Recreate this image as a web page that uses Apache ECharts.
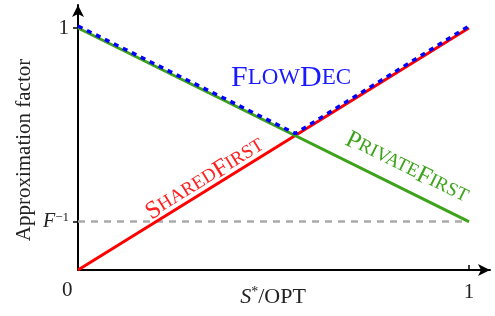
<!DOCTYPE html>
<html>
<head>
<meta charset="utf-8">
<script src="https://cdn.jsdelivr.net/npm/echarts@6/dist/echarts.min.js"></script>
<style>
  html, body { margin: 0; padding: 0; background: #fff; }
  #main { width: 495px; height: 316px; }
</style>
</head>
<body>
<div id="main"></div>
<script>
    // data
    var Finv = 0.2;
    var sharedFirst = [[0, 0], [1, 1]];
    var privateFirst = [[0, 1], [1, Finv]];
    // max of the two, drawn a hair above the solid lines
    var flowDec = [[0, 1.008], [0.556, 0.564], [1, 1.008]];
    var floorLine = [[0, Finv], [1, Finv]];
    var xTicks = [1];
    var yTicks = [Finv, 1];

    var serif = 'Liberation Serif';
    var green = '#3ca31a';

    var chart = echarts.init(document.getElementById('main'));
    var option = {
        animation: false,
        grid: { left: 78, right: 5, top: 5, bottom: 46 },
        xAxis: {
            type: 'value', min: 0, max: 1.054,
            splitLine: { show: false },
            axisLine: { lineStyle: { color: '#000', width: 2 }, symbol: ['none', 'arrow'], symbolSize: [9, 12] },
            axisTick: { customValues: xTicks, length: 5, inside: true, lineStyle: { color: '#000', width: 1.5 } },
            axisLabel: { customValues: xTicks, color: '#222', fontFamily: serif, fontSize: 21, margin: 12 }
        },
        yAxis: {
            type: 'value', min: 0, max: 1.095,
            splitLine: { show: false },
            axisLine: { lineStyle: { color: '#000', width: 2 }, symbol: ['none', 'arrow'], symbolSize: [9, 12] },
            axisTick: { customValues: yTicks, length: 5, lineStyle: { color: '#000', width: 1.5 } },
            axisLabel: {
                customValues: yTicks, margin: 9, color: '#222', fontFamily: serif, fontSize: 21,
                formatter: function (v) { return v == 1 ? '1' : '{it|F}{sup|−1}'; },
                rich: {
                    it: { fontStyle: 'italic', fontFamily: serif, fontSize: 20, color: '#222' },
                    sup: { fontFamily: serif, fontSize: 13, color: '#222', verticalAlign: 'top', padding: [0, 0, 9, 0] }
                }
            }
        },
        graphic: [
            { type: 'text', left: 62, top: 280, style: { text: '0', font: '21px ' + serif, fill: '#222' } },
            {
                type: 'text', x: 24, y: 150, rotation: Math.PI / 2, origin: [0, 0],
                style: { text: 'Approximation factor', font: '21px ' + serif, fill: '#222', align: 'center', verticalAlign: 'middle' }
            },
            {
                type: 'text', x: 273, y: 297,
                style: {
                    text: '{it|S}{sup|*}{n|/OPT}', align: 'center', verticalAlign: 'middle',
                    rich: {
                        it: { fontStyle: 'italic', fontFamily: serif, fontSize: 22, fill: '#222' },
                        sup: { fontFamily: serif, fontSize: 14, fill: '#222', padding: [0, 0, 9, 0] },
                        n: { fontFamily: serif, fontSize: 22, fill: '#222' }
                    }
                }
            },
            {
                type: 'text', x: 291, y: 78,
                style: {
                    text: '{b|F}{s|LOW}{b|D}{s|EC}', align: 'center', verticalAlign: 'middle',
                    rich: {
                        b: { fontFamily: serif, fontSize: 30, fill: '#1a1aff' },
                        s: { fontFamily: serif, fontSize: 23, fill: '#1a1aff' }
                    }
                }
            },
            {
                type: 'text', x: 205, y: 179, rotation: Math.atan(242 / 391), origin: [0, 0],
                style: {
                    text: '{b|S}{s|HARED}{b|F}{s|IRST}', align: 'center', verticalAlign: 'middle',
                    rich: {
                        b: { fontFamily: serif, fontSize: 25, fill: '#ff2020' },
                        s: { fontFamily: serif, fontSize: 19, fill: '#ff2020' }
                    }
                }
            },
            {
                type: 'text', x: 407, y: 168, rotation: -Math.atan(194 / 391), origin: [0, 0],
                style: {
                    text: '{b|P}{s|RIVATE}{b|F}{s|IRST}', align: 'center', verticalAlign: 'middle',
                    rich: {
                        b: { fontFamily: serif, fontSize: 25, fill: green },
                        s: { fontFamily: serif, fontSize: 19, fill: green }
                    }
                }
            }
        ],
        series: [
            {
                type: 'line', data: floorLine, symbol: 'none', z: 1,
                lineStyle: { color: '#aaaaaa', width: 2.5, type: [7, 6] }
            },
            {
                type: 'line', data: sharedFirst, symbol: 'none', z: 2,
                lineStyle: { color: '#ff0000', width: 3 }
            },
            {
                type: 'line', data: privateFirst, symbol: 'none', z: 2,
                lineStyle: { color: green, width: 3 }
            },
            {
                type: 'line', data: flowDec, symbol: 'none', z: 3,
                lineStyle: { color: '#0000ff', width: 3.5, type: [5, 5] }
            }
        ]
    };
    chart.setOption(option);
</script>
</body>
</html>
